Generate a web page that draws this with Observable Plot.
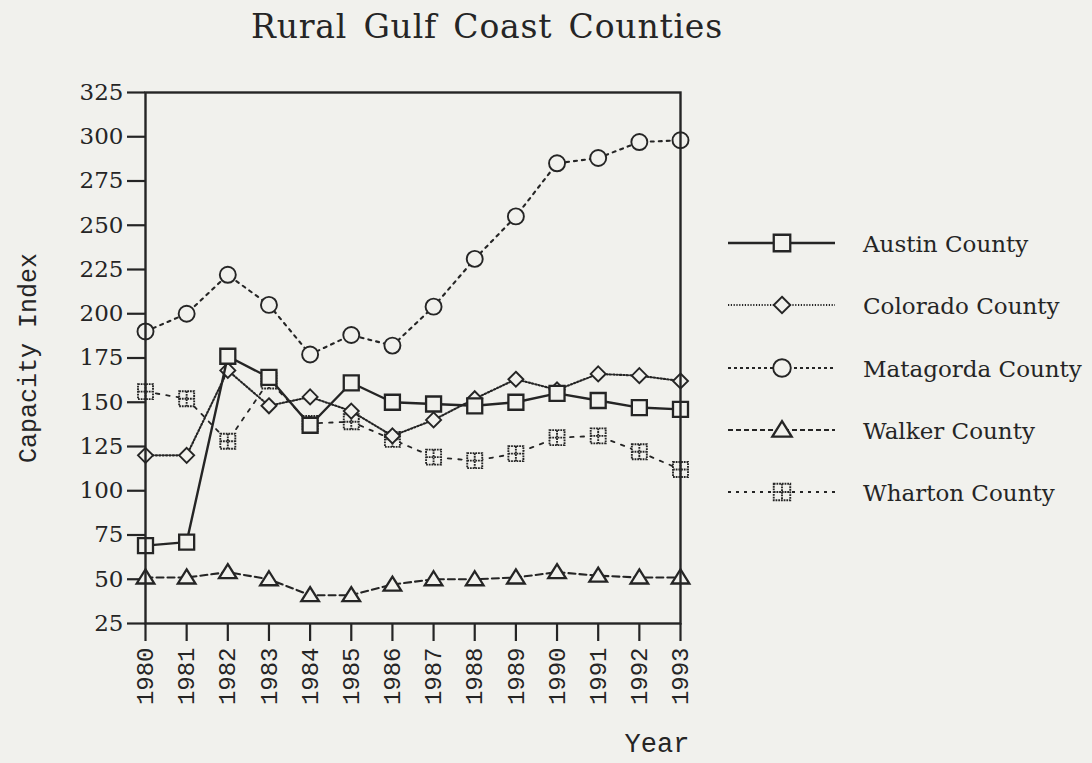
<!DOCTYPE html>
<html>
<head>
<meta charset="utf-8">
<script src="https://cdn.jsdelivr.net/npm/d3@7"></script>
<script src="https://cdn.jsdelivr.net/npm/@observablehq/plot@0.6"></script>
<style>
  html, body { margin: 0; padding: 0; background: #f1f1ed; }
  #wrap { position: relative; width: 1092px; height: 763px; overflow: hidden; background: #f1f1ed; }
  #wrap svg { position: absolute; left: 0; top: 0; }
  #overlay { pointer-events: none; }
</style>
</head>
<body>
<div id="wrap"></div>
<script>
// ---------- data ----------
const years = [1980, 1981, 1982, 1983, 1984, 1985, 1986, 1987, 1988, 1989, 1990, 1991, 1992, 1993];
const austin    = [69, 71, 176, 164, 137, 161, 150, 149, 148, 150, 155, 151, 147, 146];
const colorado  = [120, 120, 168, 148, 153, 145, 131, 140, 152, 163, 157, 166, 165, 162];
const matagorda = [190, 200, 222, 205, 177, 188, 182, 204, 231, 255, 285, 288, 297, 298];
const walker    = [51, 51, 54, 50, 41, 41, 47, 50, 50, 51, 54, 52, 51, 51];
const wharton   = [156, 152, 128, 162, 138, 139, 129, 119, 117, 121, 130, 131, 122, 112];
const yTicks = [25, 50, 75, 100, 125, 150, 175, 200, 225, 250, 275, 300, 325];
const seriesNames = ["Austin County", "Colorado County", "Matagorda County", "Walker County", "Wharton County"];
const title = "Rural Gulf Coast Counties";
const yLabel = "Capacity Index";
const xLabel = "Year";

// ---------- styles ----------
const INK = "#252525";
const BG = "#f1f1ed";

const symSquare = { draw(ctx, size) { const r = Math.sqrt(size / Math.PI); ctx.rect(-r, -r, 2 * r, 2 * r); } };
const symDiamond = { draw(ctx, size) { const r = Math.sqrt(size / Math.PI); ctx.moveTo(0, -r); ctx.lineTo(r, 0); ctx.lineTo(0, r); ctx.lineTo(-r, 0); ctx.closePath(); } };
const symCircle = { draw(ctx, size) { const r = Math.sqrt(size / Math.PI); ctx.moveTo(r, 0); ctx.arc(0, 0, r, 0, 2 * Math.PI); ctx.closePath(); } };
const symTriangle = { draw(ctx, size) { const r = Math.sqrt(size / Math.PI); ctx.moveTo(0, -r); ctx.lineTo(r * 1.1, r * 0.75); ctx.lineTo(-r * 1.1, r * 0.75); ctx.closePath(); } };
const symChecker = { draw(ctx, size) { const r = Math.sqrt(size / Math.PI); ctx.rect(-r, -r, 2 * r, 2 * r); ctx.moveTo(0, -r); ctx.lineTo(0, r); ctx.moveTo(-r, 0); ctx.lineTo(r, 0); } };

const series = [
  { name: seriesNames[4], values: wharton,   symbol: symChecker, r: 7.5, lw: 1.8, dash: "3.5,7",   mw: 1.9, mdash: "1.8,0.9", ldash: "3,5" },
  { name: seriesNames[3], values: walker,    symbol: symTriangle, r: 8,  lw: 2.1, dash: "7,4",     mw: 2.3, mdash: null, ldash: "5,3" },
  { name: seriesNames[2], values: matagorda, symbol: symCircle,  r: 8,   lw: 2.1, dash: "3,5",     mw: 1.9, mdash: null, ldash: "3,3" },
  { name: seriesNames[1], values: colorado,  symbol: symDiamond, r: 7.5, lw: 2.1, dash: "1.4,2",   mw: 1.9, mdash: null, ldash: "1.2,1.6" },
  { name: seriesNames[0], values: austin,    symbol: symSquare,  r: 7.5, lw: 2.4, dash: null,      mw: 2.3, mdash: null, ldash: null }
];

const marks = [];
for (const s of series) {
  const rows = years.map((year, i) => ({ year, value: s.values[i] }));
  marks.push(Plot.line(rows, { x: "year", y: "value", stroke: INK, strokeWidth: s.lw, strokeDasharray: s.dash || undefined }));
  marks.push(Plot.dot(rows, { x: "year", y: "value", symbol: s.symbol, r: s.r, fill: BG, stroke: INK, strokeWidth: s.mw, strokeDasharray: s.mdash || undefined }));
}

const chart = Plot.plot({
  width: 1092,
  height: 763,
  marginLeft: 145,
  marginRight: 412,
  marginTop: 92,
  marginBottom: 140,
  style: { background: "transparent", color: INK },
  x: { domain: [1980, 1993] },
  y: { domain: [25, 325] },
  marks: [
    Plot.axisY({ ticks: yTicks, tickSize: 18, tickPadding: 4, strokeWidth: 2.2, label: null, fontSize: 23, fontFamily: "DejaVu Serif", fill: INK, stroke: INK }),
    Plot.axisX({ ticks: years, tickFormat: d => String(d), tickSize: 18, tickPadding: 6, tickRotate: -90, strokeWidth: 2.2, label: null, fontSize: 24, fontFamily: "Liberation Mono", fill: INK, stroke: INK }),
    ...marks,
    Plot.frame({ stroke: INK, strokeWidth: 2.4 })
  ]
});
document.getElementById("wrap").appendChild(chart);

// ---------- overlay: title, axis labels, legend ----------
const ov = d3.select("#wrap").append("svg").attr("id", "overlay")
  .attr("width", 1092).attr("height", 763);

ov.append("text").text(title)
  .attr("x", 487).attr("y", 38).attr("text-anchor", "middle")
  .attr("font-family", "DejaVu Serif").attr("font-size", 33).attr("fill", INK)
  .attr("letter-spacing", 0.8).attr("word-spacing", 5);

ov.append("text").text(yLabel)
  .attr("transform", "translate(36,358) rotate(-90)").attr("text-anchor", "middle")
  .attr("font-family", "Liberation Mono").attr("font-size", 25).attr("fill", INK);

ov.append("text").text(xLabel)
  .attr("x", 657).attr("y", 752).attr("text-anchor", "middle")
  .attr("font-family", "Liberation Mono").attr("font-size", 27).attr("fill", INK);

const legendOrder = [4, 3, 2, 1, 0]; // Austin, Colorado, Matagorda, Walker, Wharton
const rowY = [243, 305, 368, 430, 492];
legendOrder.forEach((si, k) => {
  const s = series[si];
  const g = ov.append("g").attr("transform", `translate(0,${rowY[k]})`);
  g.append("line").attr("x1", 728).attr("x2", 835).attr("y1", 0).attr("y2", 0)
    .attr("stroke", INK).attr("stroke-width", s.lw)
    .attr("stroke-dasharray", s.ldash);
  const rr = s.r * 1.1;
  g.append("path")
    .attr("d", d3.symbol(s.symbol, Math.PI * rr * rr)())
    .attr("transform", "translate(782,0)")
    .attr("fill", BG).attr("stroke", INK).attr("stroke-width", s.mw)
    .attr("stroke-dasharray", s.mdash);
  g.append("text").text(s.name)
    .attr("x", 863).attr("y", 9)
    .attr("font-family", "DejaVu Serif").attr("font-size", 23).attr("fill", INK);
});
</script>
</body>
</html>
